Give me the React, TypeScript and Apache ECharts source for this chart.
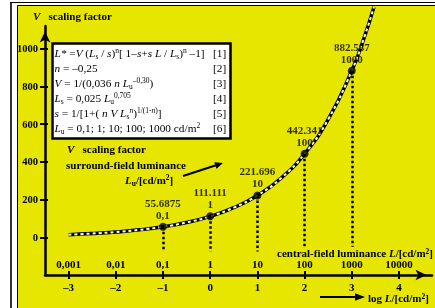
import React, { useEffect, useRef } from 'react';
import * as echarts from 'echarts';

const logTicks = [-3, -2, -1, 0, 1, 2, 3, 4];
const logTickLabels = ['–3', '–2', '–1', '0', '1', '2', '3', '4'];
const lumTickLabels = ['0,001', '0,01', '0,1', '1', '10', '100', '1000', '10000'];
const yTicks = [0, 200, 400, 600, 800, 1000];
const yTickLabels = ['0', '200', '400', '600', '800', '1000'];

const curveLogL = [-3, -2.5, -2, -1.5, -1, -0.5, 0, 0.5, 1, 1.5, 2, 2.5, 3, 3.25, 3.47];
const curveV = [14.0, 19.8, 27.9, 39.4, 55.7, 78.7, 111.1, 157.0, 221.7, 313.1, 442.3, 624.9, 882.6, 1049, 1221];

const pointLogL = [-1, 0, 1, 2, 3];
const pointV = [55.6875, 111.111, 221.696, 442.341, 882.587];
const pointValueLabels = ['55.6875', '111.111', '221.696', '442.341', '882.587'];
const pointLumLabels = ['0,1', '1', '10', '100', '1000'];
const dropBottom = -76;

const SERIF = '"Liberation Serif", "Times New Roman", serif';
const YELLOW = '#e6e600';

const eqFs = 11.3;
const eqRich: any = {
  n: { fontFamily: SERIF, fontSize: eqFs, fontStyle: 'normal', fill: '#000', lineHeight: 14 },
  i: { fontFamily: SERIF, fontSize: eqFs, fontStyle: 'italic', fill: '#000', lineHeight: 14 },
  s: { fontFamily: SERIF, fontSize: 7.5, fontStyle: 'normal', fill: '#000', verticalAlign: 'bottom' },
  p: { fontFamily: SERIF, fontSize: 7.5, fontStyle: 'normal', fill: '#000', verticalAlign: 'top' },
  pi: { fontFamily: SERIF, fontSize: 7.5, fontStyle: 'italic', fill: '#000', verticalAlign: 'top' },
};

function makeBold(fs: number, lh: number) {
  return {
    b: { fontFamily: SERIF, fontSize: fs, fontWeight: 'bold', fill: '#000', lineHeight: lh },
    bi: { fontFamily: SERIF, fontSize: fs, fontWeight: 'bold', fontStyle: 'italic', fill: '#000', lineHeight: lh },
    bs: { fontFamily: SERIF, fontSize: 7.5, fontWeight: 'bold', fill: '#000', verticalAlign: 'bottom' },
    bp: { fontFamily: SERIF, fontSize: 7.5, fontWeight: 'bold', fill: '#000', verticalAlign: 'top' },
  };
}
const bRich: any = makeBold(11, 14);
const bRichTight: any = makeBold(11, 10.5);

const eqLines = [
  '{i|L*}{n| =}{i|V}{n| (}{i|L}{s|s}{n| / }{i|s}{n|)}{p|n}{n|[ 1–}{i|s}{n|+}{i|s L}{n| / }{i|L}{s|s}{n|)}{p|n}{n| –1]}',
  '{i|n}{n| = –0,25}',
  '{i|V}{n| = 1/(0,036 }{i|n L}{s|u}{p|–0,30}{n|)}',
  '{i|L}{s|s}{n| = 0,025 }{i|L}{s|u}{p|0,705}',
  '{i|s}{n| = 1/[1+( }{i|n V L}{s|s}{pi|n}{n|)}{p|1/(1-}{pi|n}{p|)}{n|]}',
  '{i|L}{s|u}{n| = 0,1; 1; 10; 100; 1000 cd/m}{p|2}',
];
const eqNums = ['[1]', '[2]', '[3]', '[4]', '[5]', '[6]'];

function richText(x: number, y: number, text: string, rich: any, align = 'left', extra: any = {}) {
  return {
    type: 'text',
    x,
    y,
    z: 20,
    style: {
      text,
      rich,
      align,
      verticalAlign: 'middle',
      fontFamily: SERIF,
      fontSize: 11,
      fill: '#000',
      lineHeight: 14,
      ...extra,
    },
  };
}

export default function App() {
  const ref = useRef<HTMLDivElement>(null);
  useEffect(() => {
    if (!ref.current) return;
    const chart = echarts.init(ref.current, null, { renderer: 'svg' });

    const graphics: any[] = [
      { type: 'rect', z: -20, shape: { x: 0, y: 0, width: 435, height: 308 }, style: { fill: '#fff' } },
      { type: 'rect', z: -19, shape: { x: 10, y: 2, width: 2, height: 306 }, style: { fill: '#333' } },
      { type: 'rect', z: -19, shape: { x: 10, y: 2, width: 425, height: 1 }, style: { fill: '#000' } },
      { type: 'rect', z: -18, shape: { x: 17.5, y: 5.5, width: 420, height: 305 }, style: { fill: YELLOW, stroke: '#000', lineWidth: 1 } },
      richText(33, 16, '{bi|V}{b|   scaling factor}', bRich),
      richText(67, 149, '{bi|V}{b|   scaling factor}', bRich),
      richText(66, 165, '{b|surround-field luminance}', bRich),
      richText(125, 180, '{bi|L}{bs|u}{b|/[cd/m}{bp|2}{b|]}', bRich),
      richText(434, 252.5, '{b|central-field luminance }{bi|L}{b|/[cd/m}{bp|2}{b|]}', bRichTight, 'right', { lineHeight: 10.5, backgroundColor: YELLOW, padding: [1, 1, 0, 2] }),
      richText(368, 297.5, '{b|log }{bi|L}{b|/[cd/m}{bp|2}{b|]}', bRichTight, 'left', { lineHeight: 10.5 }),
      { type: 'line', z: 20, shape: { x1: 183, y1: 176, x2: 216, y2: 165.3 }, style: { stroke: '#000', lineWidth: 2.2 } },
      { type: 'polygon', z: 20, shape: { points: [[223, 163], [216.5, 168.8], [214.3, 162.2]] }, style: { fill: '#000' } },
      { type: 'line', z: 20, shape: { x1: 320, y1: 297, x2: 357, y2: 297 }, style: { stroke: '#000', lineWidth: 2.2 } },
      { type: 'polygon', z: 20, shape: { points: [[365, 297], [355, 293.3], [355, 300.7]] }, style: { fill: '#000' } },
      { type: 'rect', z: 19, shape: { x: 52.5, y: 43.5, width: 178, height: 95 }, style: { fill: '#fff', stroke: '#000', lineWidth: 2.5 } },
    ];
    eqLines.forEach((t, i) => {
      graphics.push(richText(54.5, 53 + i * 15, t, eqRich));
      graphics.push(richText(213, 53 + i * 15, eqNums[i], eqRich, 'left', { fontSize: eqFs }));
    });

    const lblBase = { fontFamily: SERIF, fontWeight: 'bold', fontSize: 11, color: '#000' };

    chart.setOption({
      animation: false,
      backgroundColor: 'transparent',
      graphic: graphics,
      grid: { left: 45, right: 3, top: 26, bottom: 33 },
      xAxis: [
        {
          type: 'value', min: -3.5, max: 4.7, position: 'bottom',
          axisLine: { show: true, onZero: false, symbol: ['none', 'arrow'], symbolSize: [8, 11], symbolOffset: [0, -5.5], lineStyle: { color: '#000', width: 2.5 } },
          axisTick: { show: true, customValues: logTicks, length: 4, lineStyle: { color: '#000', width: 2 } },
          axisLabel: { ...lblBase, customValues: logTicks, margin: 6, lineHeight: 11, formatter: (v: number) => logTickLabels[logTicks.indexOf(v)] ?? '' },
          splitLine: { show: false },
        },
        {
          type: 'value', min: -3.5, max: 4.7, position: 'bottom',
          axisLine: { show: false, onZero: false },
          axisTick: { show: true, inside: true, customValues: logTicks, length: 4, lineStyle: { color: '#000', width: 2 } },
          axisLabel: { ...lblBase, inside: true, customValues: logTicks, margin: 6, formatter: (v: number) => lumTickLabels[logTicks.indexOf(v)] ?? '' },
          splitLine: { show: false },
        },
      ],
      yAxis: [
        {
          type: 'value', min: -200, max: 1120, position: 'left',
          axisLine: { show: true, onZero: false, symbol: ['none', 'arrow'], symbolSize: [8, 11], symbolOffset: [0, -5.5], lineStyle: { color: '#000', width: 2.5 } },
          axisTick: { show: true, customValues: yTicks, length: 5, lineStyle: { color: '#000', width: 2 } },
          axisLabel: { ...lblBase, fontSize: 10.5, customValues: yTicks, margin: 7, formatter: (v: number) => yTickLabels[yTicks.indexOf(v)] ?? '' },
          splitLine: { show: false },
        },
        {
          type: 'value', min: -200, max: 1120, position: 'left',
          axisLine: { show: false, onZero: false },
          axisTick: { show: true, inside: true, customValues: yTicks, length: 3, lineStyle: { color: '#000', width: 2 } },
          axisLabel: { show: false },
          splitLine: { show: false },
        },
      ],
      series: [
        {
          type: 'lines', coordinateSystem: 'cartesian2d', xAxisIndex: 0, yAxisIndex: 0, silent: true, z: 2,
          data: pointLogL.map((x, i) => ({ coords: [[x, pointV[i]], [x, dropBottom]] })),
          lineStyle: { color: '#000', width: 2.5, type: [2.5, 2.5], opacity: 1, curveness: 0 },
        },
        {
          type: 'line', xAxisIndex: 0, yAxisIndex: 0, smooth: true, symbol: 'none', clip: false, z: 3, silent: true,
          data: curveLogL.map((x, i) => [x, curveV[i]]),
          lineStyle: { color: '#000', width: 3.5 },
        },
        {
          type: 'line', xAxisIndex: 0, yAxisIndex: 0, smooth: true, symbol: 'none', clip: false, z: 4, silent: true,
          data: curveLogL.map((x, i) => [x, curveV[i]]),
          lineStyle: { color: '#fff', width: 2, type: [3, 3] },
        },
        {
          type: 'scatter', xAxisIndex: 0, yAxisIndex: 0, z: 5, symbolSize: 8, silent: true,
          data: pointLogL.map((x, i) => [x, pointV[i]]),
          itemStyle: { color: '#000' },
          label: {
            show: true, position: 'top', distance: 2, ...lblBase, lineHeight: 12,
            formatter: (p: any) => `${pointValueLabels[p.dataIndex]}\n${pointLumLabels[p.dataIndex]}`,
          },
        },
      ],
    });
    return () => chart.dispose();
  }, []);
  return <div ref={ref} style={{ position: 'fixed', left: 0, top: 0, width: 435, height: 308 }} />;
}
